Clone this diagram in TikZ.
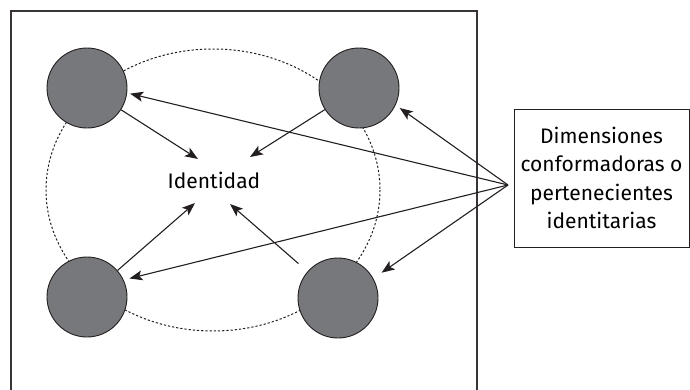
\documentclass[tikz,border=0pt]{standalone}
\usepackage{fontspec}
\setmainfont{Fira Sans}
\usetikzlibrary{arrows.meta}
\definecolor{dotgray}{HTML}{77787B}
\definecolor{ink}{HTML}{231F20}
\tikzset{
  dot/.style={circle, fill=dotgray, draw=ink, line width=0.9pt, minimum size=80pt, inner sep=0pt},
  arr/.style={draw=ink, line width=1.1pt, -{Stealth[length=13pt,width=10pt,inset=3pt]}},
  frame/.style={draw=ink!90, line width=1.6pt},
  infobox/.style={draw=ink, line width=0.9pt, minimum width=175pt, minimum height=138pt, align=center, inner sep=0pt, font=\fontsize{21}{28.5}\selectfont},
  orbit/.style={draw=ink, line width=1pt, dash pattern=on 2.2pt off 2pt}
}
\begin{document}
\begin{tikzpicture}[x=1pt,y=-1pt]
\useasboundingbox (0,0) rectangle (690,389);
% outer frame (bottom lies outside the picture)
\draw[frame] (11,400) -- (11,11) -- (477,11) -- (477,400);
% dotted orbit
\draw[orbit] (213,190) ellipse [x radius=167, y radius=141];
% circles
\node[dot] (tl) at (87,88) {};
\node[dot] (tr) at (359,88) {};
\node[dot] (bl) at (87,297) {};
\node[dot] (br) at (338,298) {};
% centre label
\node[font=\fontsize{21}{25}\selectfont] (ident) at (214,180) {Identidad};
\coordinate (a1) at (198,159);
\coordinate (a2) at (250,157);
\coordinate (a3) at (195,203);
\coordinate (a4) at (230,204);
\draw[arr] (tl) -- (a1);
\draw[arr] (tr) -- (a2);
\draw[arr] (bl) -- (a3);
\draw[arr, shorten <=12pt] (br) -- (a4);
% box
\node[infobox] (dims) at (601.5,178) {Dimensiones\\conformadoras o\\pertenecientes\\identitarias};
\coordinate (c) at (508,185);
\draw[arr, shorten >=3pt] (c) -- (tl.-7);
\draw[arr, shorten >=5pt] (c) -- (tr.-25);
\draw[arr, shorten >=6pt] (c) -- (bl.25);
\draw[arr, shorten >=10pt] (c) -- (br.29);
\end{tikzpicture}
\end{document}
